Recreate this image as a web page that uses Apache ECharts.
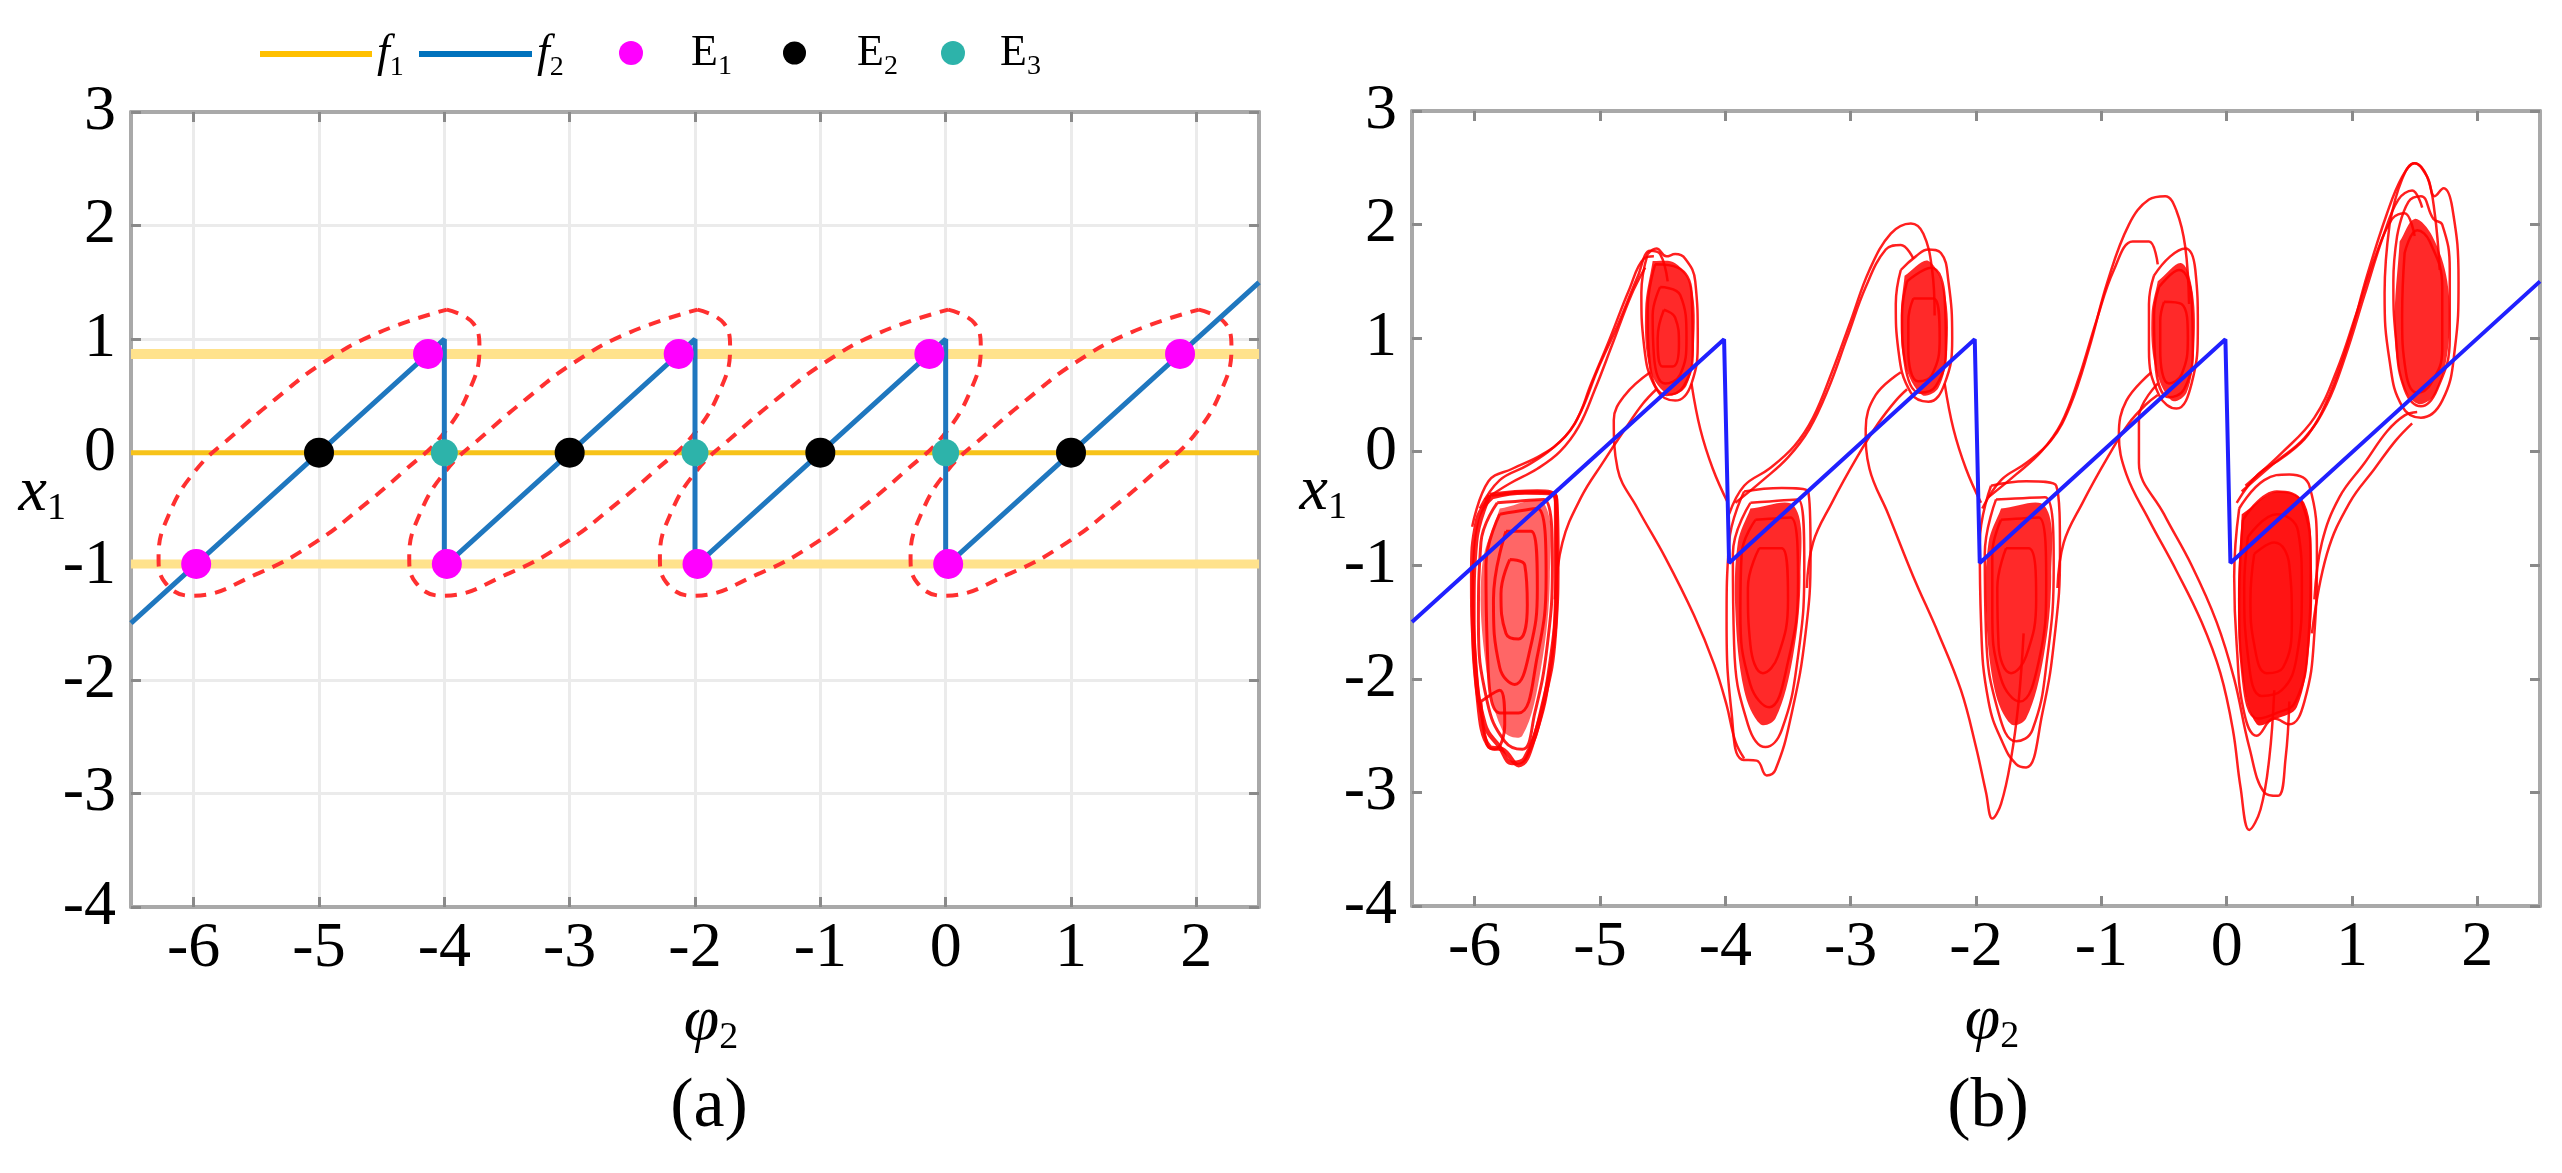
<!DOCTYPE html>
<html><head><meta charset="utf-8">
<script src="https://cdn.jsdelivr.net/npm/echarts@6/dist/echarts.min.js"></script>
<style>html,body{margin:0;padding:0;background:#fff}#c{width:2562px;height:1173px}</style>
</head><body><div id="c"></div>
<script>
// ---------- tick values ----------
const xTicks = [-6,-5,-4,-3,-2,-1,0,1,2];
const yTicks = [-4,-3,-2,-1,0,1,2,3];

// ---------- panel (a) ----------
const f1Zero  = [[-6.5,0],[2.5,0]];
const f1Upper = [[-6.5,0.87],[2.5,0.87]];
const f1Lower = [[-6.5,-0.98],[2.5,-0.98]];
const f2Saw   = [[-6.5,-1.5],[-4,1],[-4,-1],[-2,1],[-2,-1],[0,1],[0,-1],[2.5,1.5]];
const E1pts = [[-5.98,-0.98],[-4.13,0.87],[-3.98,-0.98],[-2.13,0.87],[-1.98,-0.98],[-0.13,0.87],[0.02,-0.98],[1.87,0.87]];
const E2pts = [[-5,0],[-3,0],[-1,0],[1,0]];
const E3pts = [[-4,0],[-2,0],[0,0]];
const ellipse1 = [[-3.98,1.26],[-3.77,1.14],[-3.72,0.92],[-3.80,0.55],[-4.02,0.15],[-4.32,-0.16],[-4.65,-0.47],[-5.03,-0.79],[-5.48,-1.06],[-6.02,-1.26],[-6.23,-1.14],[-6.28,-0.92],[-6.20,-0.55],[-5.98,-0.15],[-5.68,0.16],[-5.35,0.47],[-4.97,0.79],[-4.52,1.06],[-3.98,1.26]];
const ellipse2 = [[-1.98,1.26],[-1.77,1.14],[-1.72,0.92],[-1.80,0.55],[-2.02,0.15],[-2.32,-0.16],[-2.65,-0.47],[-3.03,-0.79],[-3.48,-1.06],[-4.02,-1.26],[-4.23,-1.14],[-4.28,-0.92],[-4.20,-0.55],[-3.98,-0.15],[-3.68,0.16],[-3.35,0.47],[-2.97,0.79],[-2.52,1.06],[-1.98,1.26]];
const ellipse3 = [[0.02,1.26],[0.23,1.14],[0.28,0.92],[0.20,0.55],[-0.02,0.15],[-0.32,-0.16],[-0.65,-0.47],[-1.03,-0.79],[-1.48,-1.06],[-2.02,-1.26],[-2.23,-1.14],[-2.28,-0.92],[-2.20,-0.55],[-1.98,-0.15],[-1.68,0.16],[-1.35,0.47],[-0.97,0.79],[-0.52,1.06],[0.02,1.26]];
const ellipse4 = [[2.02,1.26],[2.23,1.14],[2.28,0.92],[2.20,0.55],[1.98,0.15],[1.68,-0.16],[1.35,-0.47],[0.97,-0.79],[0.52,-1.06],[-0.02,-1.26],[-0.23,-1.14],[-0.28,-0.92],[-0.20,-0.55],[0.02,-0.15],[0.32,0.16],[0.65,0.47],[1.03,0.79],[1.48,1.06],[2.02,1.26]];

// ---------- panel (b) ----------
const sawB = [[-6.5,-1.5],[-4.01,0.99],[-3.97,-0.98],[-2.01,0.99],[-1.97,-0.98],[-0.01,0.99],[0.03,-0.98],[2.5,1.5]];

const loopsL1 = [
 [[-5.86,-0.4],[-5.6,-0.36],[-5.36,-0.38],[-5.34,-0.9],[-5.36,-1.6],[-5.45,-2.2],[-5.6,-2.7],[-5.7,-2.74],[-5.8,-2.6],[-5.92,-2.4],[-6.0,-1.8],[-6.02,-1.1],[-5.98,-0.6],[-5.86,-0.4]],
 [[-5.88,-0.38],[-5.5,-0.35],[-5.35,-0.42],[-5.35,-1.2],[-5.4,-1.9],[-5.52,-2.5],[-5.65,-2.76],[-5.78,-2.62],[-5.88,-2.6],[-5.98,-2.1],[-6.01,-1.4],[-5.99,-0.8],[-5.88,-0.38]],
 [[-5.82,-0.45],[-5.45,-0.42],[-5.38,-1.0],[-5.42,-1.7],[-5.52,-2.3],[-5.62,-2.62],[-5.76,-2.55],[-5.9,-2.2],[-5.97,-1.5],[-5.95,-0.8],[-5.82,-0.45]],
 [[-5.8,-0.55],[-5.5,-0.5],[-5.43,-1.1],[-5.5,-1.8],[-5.65,-2.3],[-5.8,-2.3],[-5.9,-1.7],[-5.91,-1.0],[-5.8,-0.55]],
 [[-5.75,-0.7],[-5.55,-0.7],[-5.5,-1.2],[-5.56,-1.75],[-5.68,-2.05],[-5.8,-1.9],[-5.85,-1.3],[-5.75,-0.7]],
 [[-5.72,-0.95],[-5.6,-1.0],[-5.58,-1.35],[-5.65,-1.65],[-5.75,-1.6],[-5.79,-1.25],[-5.72,-0.95]],
 [[-5.95,-2.2],[-5.9,-2.58],[-5.84,-2.62],[-5.76,-2.4],[-5.8,-2.1],[-5.95,-2.2]]
];
const loopsU1 = [
 [[-4.62,1.74],[-4.55,1.79],[-4.47,1.72],[-4.4,1.74],[-4.32,1.7],[-4.24,1.5],[-4.22,1.0],[-4.27,0.6],[-4.4,0.45],[-4.55,0.55],[-4.65,0.95],[-4.67,1.4],[-4.62,1.74]],
 [[-4.56,1.65],[-4.38,1.62],[-4.27,1.4],[-4.26,0.9],[-4.33,0.58],[-4.47,0.5],[-4.6,0.75],[-4.62,1.25],[-4.56,1.65]],
 [[-4.52,1.45],[-4.36,1.38],[-4.31,1.0],[-4.36,0.68],[-4.48,0.6],[-4.57,0.85],[-4.58,1.2],[-4.52,1.45]],
 [[-4.49,1.25],[-4.4,1.18],[-4.37,0.95],[-4.42,0.75],[-4.5,0.75],[-4.54,1.0],[-4.49,1.25]]
];
const loopsL2 = [
 [[-3.85,-0.35],[-3.55,-0.32],[-3.34,-0.35],[-3.32,-0.9],[-3.36,-1.6],[-3.47,-2.3],[-3.6,-2.8],[-3.67,-2.85],[-3.75,-2.72],[-3.87,-2.71],[-3.95,-2.3],[-3.99,-1.5],[-3.97,-0.8],[-3.85,-0.35]],
 [[-3.8,-0.45],[-3.42,-0.42],[-3.37,-1.0],[-3.42,-1.8],[-3.55,-2.45],[-3.68,-2.6],[-3.82,-2.4],[-3.93,-1.7],[-3.94,-0.9],[-3.8,-0.45]],
 [[-3.76,-0.6],[-3.48,-0.58],[-3.42,-1.15],[-3.5,-1.85],[-3.65,-2.25],[-3.8,-2.05],[-3.88,-1.4],[-3.87,-0.9],[-3.76,-0.6]],
 [[-3.73,-0.85],[-3.55,-0.85],[-3.5,-1.3],[-3.58,-1.8],[-3.7,-1.95],[-3.8,-1.7],[-3.82,-1.2],[-3.73,-0.85]]
];
const loopsU2 = [
 [[-2.6,1.6],[-2.48,1.72],[-2.38,1.78],[-2.28,1.75],[-2.22,1.5],[-2.19,1.0],[-2.25,0.6],[-2.38,0.44],[-2.52,0.52],[-2.62,0.9],[-2.64,1.3],[-2.6,1.6]],
 [[-2.55,1.5],[-2.36,1.62],[-2.25,1.35],[-2.24,0.9],[-2.32,0.58],[-2.45,0.52],[-2.57,0.8],[-2.59,1.2],[-2.55,1.5]],
 [[-2.5,1.35],[-2.34,1.35],[-2.29,1.0],[-2.35,0.68],[-2.46,0.62],[-2.54,0.9],[-2.54,1.15],[-2.5,1.35]]
];
const loopsL3 = [
 [[-1.88,-0.3],[-1.6,-0.26],[-1.36,-0.3],[-1.33,-0.9],[-1.37,-1.6],[-1.47,-2.3],[-1.6,-2.78],[-1.68,-2.75],[-1.78,-2.58],[-1.9,-2.2],[-1.96,-1.5],[-1.97,-0.8],[-1.88,-0.3]],
 [[-1.84,-0.42],[-1.45,-0.4],[-1.38,-1.0],[-1.43,-1.8],[-1.55,-2.45],[-1.68,-2.55],[-1.82,-2.3],[-1.92,-1.6],[-1.93,-0.9],[-1.84,-0.42]],
 [[-1.8,-0.6],[-1.5,-0.58],[-1.44,-1.15],[-1.5,-1.85],[-1.65,-2.2],[-1.8,-2.0],[-1.87,-1.4],[-1.87,-0.9],[-1.8,-0.6]],
 [[-1.76,-0.85],[-1.58,-0.85],[-1.52,-1.3],[-1.6,-1.8],[-1.72,-1.95],[-1.82,-1.7],[-1.83,-1.2],[-1.76,-0.85]]
];
const loopsU3 = [
 [[-0.58,1.55],[-0.45,1.72],[-0.33,1.79],[-0.25,1.6],[-0.23,1.1],[-0.28,0.6],[-0.4,0.38],[-0.54,0.5],[-0.62,0.9],[-0.62,1.3],[-0.58,1.55]],
 [[-0.54,1.45],[-0.38,1.6],[-0.28,1.35],[-0.27,0.9],[-0.34,0.55],[-0.46,0.48],[-0.57,0.8],[-0.58,1.2],[-0.54,1.45]],
 [[-0.5,1.32],[-0.36,1.3],[-0.31,1.0],[-0.36,0.68],[-0.46,0.6],[-0.53,0.9],[-0.53,1.15],[-0.5,1.32]]
];
const loopsL4 = [
 [[0.1,-0.5],[0.3,-0.25],[0.5,-0.2],[0.66,-0.3],[0.72,-0.9],[0.7,-1.6],[0.62,-2.2],[0.5,-2.4],[0.38,-2.35],[0.24,-2.5],[0.14,-2.3],[0.08,-1.7],[0.06,-1.1],[0.1,-0.5]],
 [[0.13,-0.6],[0.4,-0.35],[0.6,-0.45],[0.67,-1.0],[0.65,-1.7],[0.55,-2.2],[0.4,-2.3],[0.25,-2.35],[0.13,-2.0],[0.1,-1.3],[0.13,-0.6]],
 [[0.17,-0.75],[0.4,-0.55],[0.57,-0.7],[0.6,-1.2],[0.56,-1.8],[0.44,-2.1],[0.28,-2.15],[0.17,-1.8],[0.14,-1.2],[0.17,-0.75]],
 [[0.22,-0.9],[0.38,-0.8],[0.5,-1.0],[0.52,-1.5],[0.45,-1.9],[0.32,-1.95],[0.22,-1.7],[0.19,-1.3],[0.22,-0.9]]
];
const loopsU4 = [
 [[1.3,2.0],[1.4,2.4],[1.5,2.54],[1.6,2.42],[1.66,2.25],[1.73,2.32],[1.8,2.15],[1.85,1.5],[1.82,0.9],[1.72,0.45],[1.55,0.3],[1.4,0.4],[1.3,0.8],[1.26,1.4],[1.3,2.0]],
 [[1.36,1.9],[1.45,2.2],[1.55,2.25],[1.65,2.05],[1.72,2.0],[1.78,1.6],[1.78,1.0],[1.68,0.55],[1.55,0.4],[1.42,0.55],[1.35,1.0],[1.33,1.5],[1.36,1.9]],
 [[1.42,1.75],[1.52,1.95],[1.62,1.85],[1.72,1.45],[1.72,0.9],[1.63,0.6],[1.52,0.52],[1.43,0.7],[1.4,1.2],[1.42,1.75]]
];
// dense inner regions of the spirals, where the trajectory fills the area
const denseL1 = [[-5.8,-0.5],[-5.45,-0.45],[-5.4,-1.1],[-5.47,-1.9],[-5.62,-2.5],[-5.78,-2.45],[-5.92,-1.8],[-5.94,-1.0],[-5.8,-0.5]];
const denseU1 = [[-4.58,1.68],[-4.4,1.66],[-4.27,1.45],[-4.25,0.95],[-4.31,0.58],[-4.45,0.5],[-4.6,0.72],[-4.64,1.25],[-4.58,1.68]];
const denseL2 = [[-3.8,-0.5],[-3.45,-0.48],[-3.4,-1.1],[-3.46,-1.8],[-3.6,-2.35],[-3.72,-2.4],[-3.85,-2.1],[-3.92,-1.4],[-3.9,-0.8],[-3.8,-0.5]];
const denseU2 = [[-2.57,1.55],[-2.38,1.68],[-2.25,1.4],[-2.23,0.9],[-2.3,0.56],[-2.43,0.5],[-2.57,0.78],[-2.6,1.2],[-2.57,1.55]];
const denseL3 = [[-1.8,-0.5],[-1.45,-0.48],[-1.4,-1.1],[-1.46,-1.8],[-1.6,-2.35],[-1.72,-2.4],[-1.85,-2.1],[-1.92,-1.4],[-1.9,-0.8],[-1.8,-0.5]];
const denseU3 = [[-0.55,1.5],[-0.36,1.66],[-0.27,1.4],[-0.26,0.9],[-0.32,0.52],[-0.44,0.45],[-0.57,0.75],[-0.6,1.2],[-0.55,1.5]];
const denseL4 = [[0.12,-0.55],[0.4,-0.35],[0.62,-0.45],[0.68,-1.0],[0.66,-1.7],[0.56,-2.25],[0.4,-2.35],[0.24,-2.4],[0.13,-2.0],[0.09,-1.3],[0.12,-0.55]];
const denseU4 = [[1.38,1.85],[1.5,2.05],[1.64,1.9],[1.76,1.5],[1.77,0.95],[1.67,0.52],[1.53,0.42],[1.4,0.6],[1.34,1.1],[1.38,1.85]];

const transitions = [
 [[-6.02,-0.66],[-5.89,-0.26],[-5.7,-0.15],[-5.47,-0.03],[-5.28,0.13],[-5.15,0.36],[-5.02,0.72],[-4.86,1.11],[-4.7,1.54],[-4.6,1.77],[-4.52,1.74],[-4.46,1.5]],
 [[-5.96,-0.5],[-5.8,-0.25],[-5.58,-0.12],[-5.38,0.03],[-5.2,0.25],[-5.07,0.6],[-4.92,1.0],[-4.77,1.42],[-4.65,1.7],[-4.57,1.72]],
 [[-5.92,-0.42],[-5.72,-0.28],[-5.5,-0.15],[-5.32,0.0],[-5.17,0.22],[-5.04,0.55],[-4.9,0.95],[-4.75,1.38],[-4.64,1.62]],
 [[-5.36,-1.3],[-5.3,-0.8],[-5.15,-0.4],[-4.98,-0.1],[-4.8,0.2],[-4.66,0.42],[-4.55,0.55]],
 [[-4.6,0.7],[-4.8,0.5],[-4.89,0.28],[-4.86,-0.15],[-4.7,-0.5],[-4.48,-0.93],[-4.25,-1.44],[-4.09,-1.87],[-3.99,-2.23],[-3.92,-2.55],[-3.85,-2.7]],
 [[-4.27,0.6],[-4.2,0.2],[-4.1,-0.15],[-3.98,-0.45]],
 [[-3.97,-0.55],[-3.85,-0.3],[-3.65,-0.15],[-3.45,0.05],[-3.3,0.3],[-3.15,0.7],[-3.0,1.15],[-2.85,1.6],[-2.68,1.92],[-2.52,2.01],[-2.42,1.92],[-2.35,1.6],[-2.33,1.2]],
 [[-3.92,-0.45],[-3.7,-0.25],[-3.5,-0.05],[-3.33,0.2],[-3.18,0.55],[-3.03,1.0],[-2.88,1.45],[-2.72,1.78],[-2.6,1.82],[-2.5,1.7]],
 [[-3.35,-1.2],[-3.3,-0.8],[-3.15,-0.45],[-2.95,-0.05],[-2.78,0.25],[-2.64,0.45],[-2.55,0.55]],
 [[-2.6,0.7],[-2.8,0.5],[-2.88,0.2],[-2.85,-0.15],[-2.7,-0.55],[-2.5,-1.1],[-2.3,-1.6],[-2.12,-2.1],[-2.0,-2.6],[-1.92,-3.0],[-1.87,-3.23],[-1.8,-3.1],[-1.72,-2.7],[-1.66,-2.2],[-1.62,-1.6]],
 [[-2.25,0.6],[-2.18,0.2],[-2.08,-0.15],[-1.96,-0.45]],
 [[-1.95,-0.5],[-1.8,-0.25],[-1.6,-0.1],[-1.4,0.1],[-1.25,0.4],[-1.1,0.9],[-0.95,1.5],[-0.78,2.0],[-0.62,2.22],[-0.49,2.25],[-0.4,2.12],[-0.33,1.8],[-0.3,1.3]],
 [[-1.9,-0.4],[-1.68,-0.2],[-1.48,0.0],[-1.32,0.25],[-1.18,0.65],[-1.04,1.15],[-0.9,1.6],[-0.75,1.85],[-0.62,1.85],[-0.55,1.65]],
 [[-1.35,-1.2],[-1.3,-0.8],[-1.15,-0.45],[-0.95,-0.05],[-0.78,0.25],[-0.64,0.42],[-0.55,0.5]],
 [[-0.6,0.7],[-0.8,0.45],[-0.86,0.15],[-0.8,-0.2],[-0.62,-0.6],[-0.4,-1.05],[-0.2,-1.5],[-0.05,-1.95],[0.05,-2.45],[0.11,-2.95],[0.18,-3.33],[0.27,-3.15],[0.34,-2.7],[0.38,-2.1]],
 [[-0.55,0.6],[-0.7,0.3],[-0.7,-0.1],[-0.5,-0.55],[-0.28,-1.0],[-0.08,-1.5],[0.06,-2.0],[0.18,-2.6],[0.3,-3.0],[0.41,-3.03],[0.47,-2.7],[0.5,-2.2]],
 [[0.08,-0.45],[0.25,-0.2],[0.45,-0.05],[0.65,0.15],[0.82,0.5],[0.98,1.0],[1.12,1.55],[1.28,2.1],[1.4,2.42],[1.5,2.54],[1.6,2.42],[1.66,2.1],[1.7,1.6]],
 [[0.12,-0.35],[0.38,-0.1],[0.62,0.12],[0.8,0.42],[0.95,0.85],[1.1,1.38],[1.25,1.9],[1.37,2.22],[1.48,2.3],[1.56,2.15]],
 [[0.15,-0.3],[0.45,0.0],[0.7,0.3],[0.88,0.72],[1.03,1.2],[1.18,1.7],[1.32,2.05],[1.42,2.1],[1.5,1.9]],
 [[0.7,-1.3],[0.76,-0.8],[0.9,-0.4],[1.1,-0.1],[1.28,0.18],[1.42,0.32],[1.52,0.35]],
 [[0.68,-1.6],[0.8,-0.9],[0.98,-0.45],[1.18,-0.15],[1.35,0.1],[1.48,0.25]]
];

// ---------- styling ----------
const serif = 'Liberation Serif';
const gridA = {left:131, top:112, width:1128, height:795};
const gridB = {left:1412, top:111, width:1128, height:795};

function xAxis(grid, pos, main, split) {
  return {
    type:'value', gridIndex:grid, position:pos, min:-6.5, max:2.5, splitNumber:9,
    axisLine:{show:true, onZero:false, lineStyle:{color:'#a9a9a9', width:4}},
    axisTick:{show:true, inside:true, length:10, customValues:xTicks, lineStyle:{color:'#8a8a8a', width:3}},
    axisLabel:{show:main, customValues:xTicks, margin:10, color:'#000', fontFamily:serif, fontSize:64},
    splitLine:{show:split, lineStyle:{color:'#ebebeb', width:3}},
    name: main ? '{i|φ}{s|2}' : '', nameLocation:'middle', nameGap:80, nameMoveOverlap:false,
    nameTextStyle:{color:'#000', padding:[0,0,0,32], rich:{
      i:{fontFamily:serif, fontStyle:'italic', fontSize:64, lineHeight:70, color:'#000'},
      s:{fontFamily:serif, fontSize:38, lineHeight:38, verticalAlign:'bottom', color:'#000'}}}
  };
}
function yAxis(grid, pos, main, split) {
  return {
    type:'value', gridIndex:grid, position:pos, min:-4, max:3, interval:1,
    axisLine:{show:true, onZero:false, lineStyle:{color:'#a9a9a9', width:4}},
    axisTick:{show:true, inside:true, length:10, lineStyle:{color:'#8a8a8a', width:3}},
    axisLabel:{show:main, margin:15, color:'#000', fontFamily:serif, fontSize:64},
    splitLine:{show:split, lineStyle:{color:'#ebebeb', width:3}},
    name: main ? '{i|x}{s|1}' : '', nameLocation:'middle', nameGap:65, nameRotate:0, nameMoveOverlap:false,
    nameTextStyle:{color:'#000', padding:[0,0,32,0], rich:{
      i:{fontFamily:serif, fontStyle:'italic', fontSize:64, lineHeight:70, color:'#000'},
      s:{fontFamily:serif, fontSize:38, lineHeight:38, verticalAlign:'bottom', color:'#000'}}}
  };
}

const series = [];
// panel a
series.push({name:'f1', type:'line', xAxisIndex:0, yAxisIndex:0, data:f1Zero, symbol:'none', lineStyle:{color:'#F7C31A', width:5}, itemStyle:{color:'#FFC000'}, z:2});
series.push({name:'f1', type:'line', xAxisIndex:0, yAxisIndex:0, data:f1Upper, symbol:'none', lineStyle:{color:'#FFE28C', width:10}, z:1});
series.push({name:'f1', type:'line', xAxisIndex:0, yAxisIndex:0, data:f1Lower, symbol:'none', lineStyle:{color:'#FFE28C', width:9}, z:1});
[ellipse1, ellipse2, ellipse3, ellipse4].forEach(e => series.push({
  name:'ellipse', type:'line', xAxisIndex:0, yAxisIndex:0, data:e, symbol:'none', smooth:0.45,
  lineStyle:{color:'#FF3030', width:4, type:[12,9]}, z:3}));
series.push({name:'f2', type:'line', xAxisIndex:0, yAxisIndex:0, data:f2Saw, symbol:'none', lineStyle:{color:'#1F77BF', width:5}, itemStyle:{color:'#0072BD'}, z:4});
series.push({name:'E1', type:'scatter', xAxisIndex:0, yAxisIndex:0, data:E1pts, symbol:'circle', symbolSize:30, itemStyle:{color:'#FF00FF', opacity:1}, z:5});
series.push({name:'E2', type:'scatter', xAxisIndex:0, yAxisIndex:0, data:E2pts, symbol:'circle', symbolSize:30, itemStyle:{color:'#000000', opacity:1}, z:5});
series.push({name:'E3', type:'scatter', xAxisIndex:0, yAxisIndex:0, data:E3pts, symbol:'circle', symbolSize:27, itemStyle:{color:'#2DB3AA', opacity:1}, z:5});

// panel b
function denseSeries(regions, alpha) {
  return {name:'trajectory', type:'custom', coordinateSystem:'cartesian2d', xAxisIndex:2, yAxisIndex:2,
    data: regions.map(r => r[0]), silent:true, z:1,
    renderItem: (params, api) => ({type:'polygon',
      shape:{points: regions[params.dataIndex].map(p => api.coord(p)), smooth:0.35},
      style:{fill:'rgba(255,0,0,' + alpha + ')'}})};
}
series.push(denseSeries([denseL1], 0.6));
series.push(denseSeries([denseU1, denseL2, denseU2, denseL3, denseU3, denseU4], 0.84));
series.push(denseSeries([denseL4], 0.92));
function redLine(pts, w, sm) {
  return {name:'trajectory', type:'line', xAxisIndex:2, yAxisIndex:2, data:pts, symbol:'none', smooth:sm,
    lineStyle:{color:'#FF0000', width:w, opacity:0.88}, z:2, silent:true};
}
loopsL1.forEach((loop, i) => series.push(redLine(loop, i < 2 ? 4.5 : 3, 0.45)));
[loopsU1, loopsL2, loopsU2, loopsL3, loopsU3, loopsL4, loopsU4].forEach(group => group.forEach(loop => series.push(redLine(loop, 2.5, 0.45))));
transitions.forEach(t => series.push(redLine(t, 2.5, 0.4)));
series.push({name:'sawB', type:'line', xAxisIndex:2, yAxisIndex:2, data:sawB, symbol:'none', lineStyle:{color:'#2020FF', width:4}, z:4});

const legendRich = {
  i:{fontFamily:serif, fontStyle:'italic', fontSize:46, lineHeight:56, color:'#000'},
  r:{fontFamily:serif, fontSize:44, lineHeight:56, color:'#000'},
  s:{fontFamily:serif, fontSize:28, lineHeight:28, verticalAlign:'bottom', color:'#000'},
  g1:{width:43}, g2:{width:46}, g3:{width:30}
};
const legendFmt = {f1:'{i|f}{s|1}', f2:'{i|f}{s|2}', E1:'{g1| }{r|E}{s|1}', E2:'{g2| }{r|E}{s|2}', E3:'{g3| }{r|E}{s|3}'};
function legend(name, left, w, h, icon) {
  return {data:[name], left:left, top:31, padding:0, itemWidth:w, itemHeight:h, selectedMode:false, icon:icon,
    formatter: n => legendFmt[n], textStyle:{color:'#000', rich:legendRich}};
}

const option = {
  animation:false,
  backgroundColor:'#fff',
  grid:[gridA, gridB],
  xAxis:[xAxis(0,'bottom',true,true), xAxis(0,'top',false,false), xAxis(1,'bottom',true,false), xAxis(1,'top',false,false)],
  yAxis:[yAxis(0,'left',true,true), yAxis(0,'right',false,false), yAxis(1,'left',true,false), yAxis(1,'right',false,false)],
  legend:[legend('f1',260,112,6,'rect'), legend('f2',419,113,6,'rect'), legend('E1',619,24,24,'circle'), legend('E2',783,23,23,'circle'), legend('E3',941,24,24,'circle')],
  graphic:[
    {type:'text', x:709, y:1108, style:{text:'(a)', fontFamily:serif, fontSize:70, fill:'#000', align:'center', verticalAlign:'middle'}},
    {type:'text', x:1988, y:1108, style:{text:'(b)', fontFamily:serif, fontSize:70, fill:'#000', align:'center', verticalAlign:'middle'}}
  ],
  series: series
};
const chart = echarts.init(document.getElementById('c'), null, {renderer:'canvas'});
chart.setOption(option);
</script></body></html>
